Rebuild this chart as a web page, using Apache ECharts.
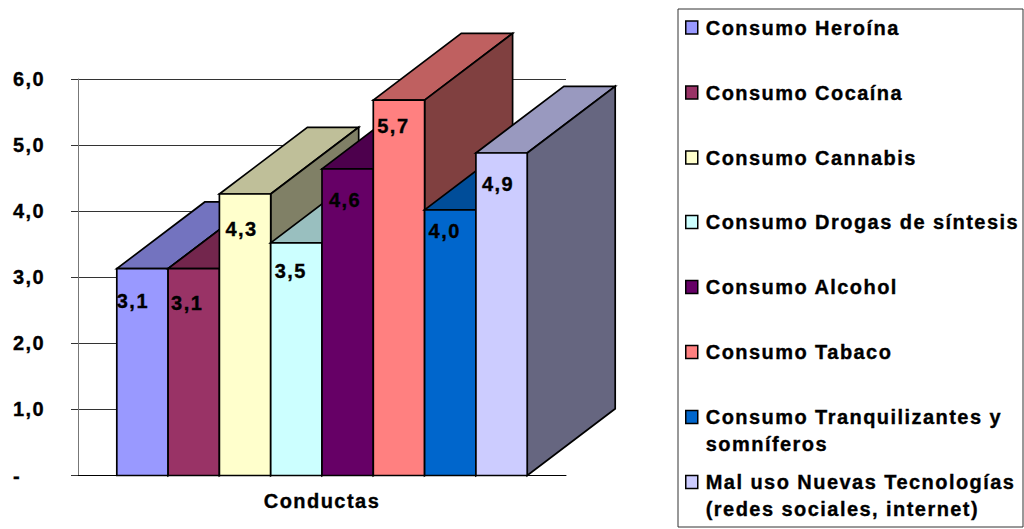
<!DOCTYPE html>
<html><head><meta charset="utf-8">
<script src="https://cdn.jsdelivr.net/npm/echarts@6/dist/echarts.min.js"></script>
<style>
html,body{margin:0;padding:0;background:#fff}
#c{width:1024px;height:529px}
#c text{letter-spacing:1.45px;stroke:#000;stroke-width:.35px}
</style></head><body><div id="c"></div>
<script>
const categories = ['Conductas'];
const seriesNames = ['Consumo Heroína','Consumo Cocaína','Consumo Cannabis','Consumo Drogas de síntesis','Consumo Alcohol','Consumo Tabaco','Consumo Tranquilizantes y\nsomníferos','Mal uso Nuevas Tecnologías\n(redes sociales, internet)'];
const seriesValues = [3.13,3.13,4.26,3.52,4.64,5.68,4.02,4.88];
const seriesColors = ['#9999FF','#993366','#FFFFCC','#CCFFFF','#660066','#FF8080','#0066CC','#CCCCFF'];
const yTicks = {min:0,max:6,interval:1};
// layout only
const labelOffsets = [[0,32],[3,34],[6,35],[4,28],[7,31],[4,26],[4,21],[6,31]];
const legendCenters = [27.5,92.5,157.5,222,287,352,417,482];
const FONT = '"Liberation Sans", Arial, sans-serif';
const FS = 20;
const DX = 88, DY = 66.7, CLUSTER = 0.841;

function shade(hex,f){
  const n=parseInt(hex.slice(1),16);
  return 'rgb('+[(n>>16)&255,(n>>8)&255,n&255].map(v=>Math.round(v*f)).join(',')+')';
}
const fmt = v => v.toFixed(1).replace('.',',');

function makeRender(i){
  return function(params,api){
    const top = api.coord([0,api.value(1)]);
    const base = api.coord([0,0]);
    const bw = api.size([1,0])[0]*CLUSTER/seriesValues.length;
    const x0 = top[0]-bw*seriesValues.length/2+bw*i, x1=x0+bw, yt=top[1], yb=base[1];
    const col = seriesColors[i];
    const st = c => ({fill:c,stroke:'#000',lineWidth:1.7,lineJoin:'miter'});
    return {type:'group',children:[
      {type:'polygon',shape:{points:[[x0,yt],[x1,yt],[x1+DX,yt-DY],[x0+DX,yt-DY]]},style:st(shade(col,0.75))},
      {type:'polygon',shape:{points:[[x1,yt],[x1+DX,yt-DY],[x1+DX,yb-DY],[x1,yb]]},style:st(shade(col,0.5))},
      {type:'polygon',shape:{points:[[x0,yt],[x1,yt],[x1,yb],[x0,yb]]},style:st(col)},
      {type:'text',x:x0+labelOffsets[i][0],y:yt+labelOffsets[i][1],style:{text:fmt(seriesValues[i]),fill:'#000',font:'bold '+FS+'px '+FONT,textAlign:'left',textVerticalAlign:'middle'}}
    ]};
  };
}

const chart = echarts.init(document.getElementById('c'),null,{renderer:'svg',width:1024,height:529});
chart.setOption({
  animation:false,
  backgroundColor:'#fff',
  textStyle:{fontFamily:FONT},
  grid:{left:78,right:458,top:79,bottom:53.5,containLabel:false},
  xAxis:{type:'category',data:categories,
    axisLine:{lineStyle:{color:'#000',width:1}},axisTick:{show:false},
    axisLabel:{color:'#000',fontWeight:'bold',fontSize:FS,fontFamily:FONT,margin:15}},
  yAxis:{type:'value',min:yTicks.min,max:yTicks.max,interval:yTicks.interval,
    axisLine:{show:true,lineStyle:{color:'#777',width:1}},
    axisTick:{show:true,length:7,lineStyle:{color:'#333'}},
    splitLine:{show:true,lineStyle:{color:'#333',width:1}},
    axisLabel:{color:'#000',fontWeight:'bold',fontSize:FS,fontFamily:FONT,align:'left',margin:65,
      formatter:v=>v===0?'-':fmt(v)}},
  legend:seriesNames.map((n,i)=>{
    const two=n.includes('\n'), lh=27;
    return {data:[n],left:685,top:legendCenters[i]-(two?3:1)*lh/2,padding:0,orient:'vertical',
      icon:'rect',itemWidth:12,itemHeight:13,selectedMode:false,
      itemStyle:{borderColor:'#000',borderWidth:1.5},
      formatter:s=>s.includes('\n')?'\n'+s:s,
      textStyle:{color:'#000',fontWeight:'bold',fontSize:FS,fontFamily:FONT,lineHeight:lh,padding:[0,0,0,3]}};
  }),
  graphic:[{type:'rect',shape:{x:678,y:9,width:345,height:518},style:{fill:'none',stroke:'#333',lineWidth:1},z:-1}],
  series:seriesNames.map((n,i)=>({
    name:n,type:'custom',data:[[0,seriesValues[i]]],
    encode:{x:0,y:1},clip:false,
    itemStyle:{color:seriesColors[i],borderColor:'#000',borderWidth:1},
    renderItem:makeRender(i)
  }))
});
</script></body></html>
